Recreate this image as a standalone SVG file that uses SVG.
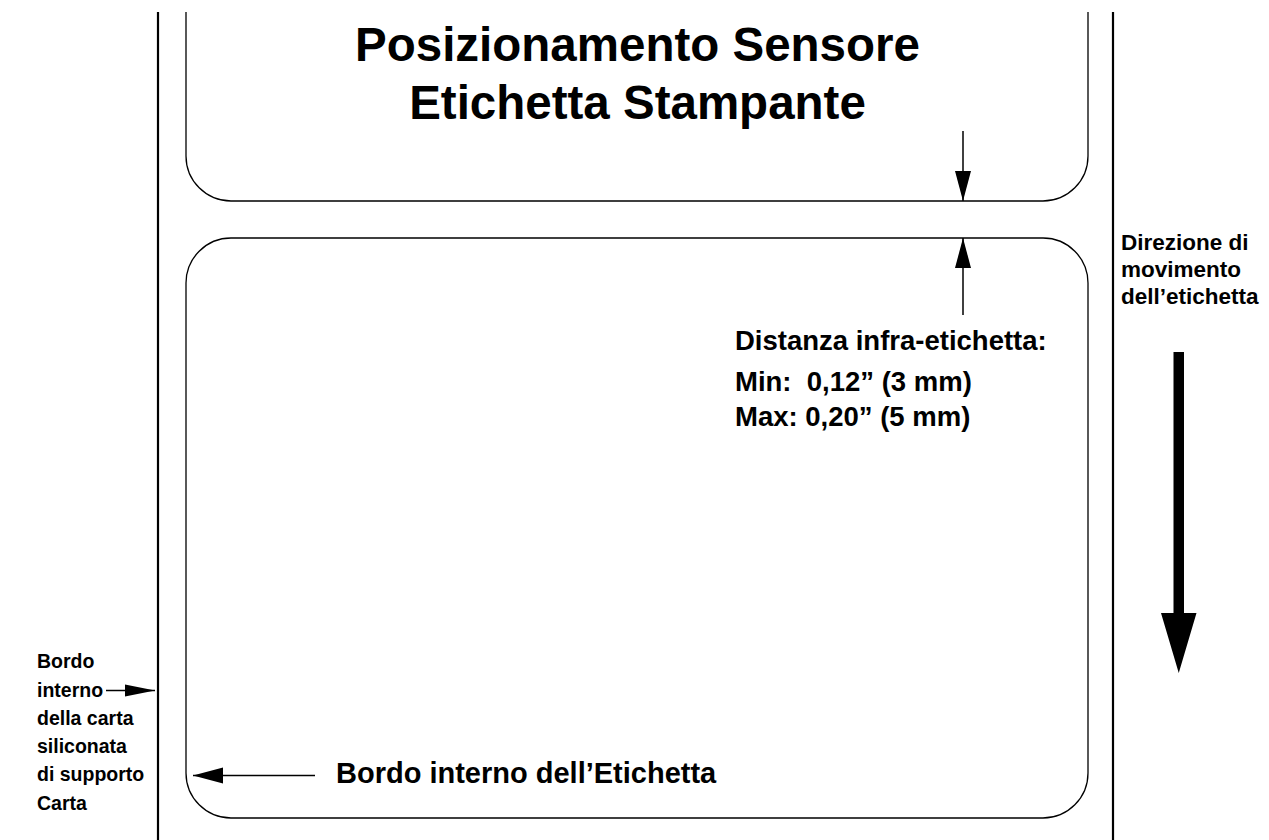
<svg xmlns="http://www.w3.org/2000/svg" width="1269" height="840" viewBox="0 0 1269 840">
<style>
.edge{fill:none;stroke:#000;stroke-width:2.2}
.lbl{fill:none;stroke:#000;stroke-width:1.3}
.ln{fill:none;stroke:#000;stroke-width:1.5}
.t{font-family:"Liberation Sans",Arial,sans-serif;font-weight:bold;fill:#000}
.title{font-size:47.5px;text-anchor:middle}
.m{font-size:27.5px}
.b{font-size:29px}
.r{font-size:22.5px}
.s{font-size:19.5px}
</style>
<defs>
<marker id="ah" markerUnits="userSpaceOnUse" markerWidth="30" markerHeight="20" viewBox="0 0 30 20" refX="30" refY="10" orient="auto">
<path d="M0,2 L30,10 L0,18 Z" fill="#000"/>
</marker>
<marker id="ahs" markerUnits="userSpaceOnUse" markerWidth="30" markerHeight="20" viewBox="0 0 30 20" refX="30" refY="10" orient="auto">
<path d="M0,4 L30,10 L0,16 Z" fill="#000"/>
</marker>
</defs>
<rect width="1269" height="840" fill="#fff"/>
<g id="backing-left"><line class="edge" x1="158" y1="12" x2="158" y2="840"/></g>
<g id="backing-right"><line class="edge" x1="1113" y1="12" x2="1113" y2="840"/></g>
<g id="label-top">
<path class="lbl" d="M186,12 V156 A45,45 0 0 0 231,201 H1043 A45,45 0 0 0 1088,156 V12"/>
<text class="t title" x="637.5" y="61">Posizionamento Sensore</text>
<text class="t title" x="637.5" y="119">Etichetta Stampante</text>
</g>
<g id="label-bottom">
<rect class="lbl" x="186" y="238" width="902" height="580" rx="45" ry="45"/>
</g>
<g id="gap-text">
<text class="t m" x="735" y="350">Distanza infra-etichetta:</text>
<text class="t m" x="735" y="391" xml:space="preserve">Min:  0,12” (3 mm)</text>
<text class="t m" x="735" y="426">Max: 0,20” (5 mm)</text>
</g>
<g id="direction-text">
<text class="t r" x="1121" y="250">Direzione di</text>
<text class="t r" x="1121" y="277">movimento</text>
<text class="t r" x="1121" y="304">dell’etichetta</text>
</g>
<g id="backing-text">
<text class="t s" x="37" y="668">Bordo</text>
<text class="t s" x="37" y="697">interno</text>
<text class="t s" x="37" y="725">della carta</text>
<text class="t s" x="37" y="753">siliconata</text>
<text class="t s" x="37" y="781">di supporto</text>
<text class="t s" x="37" y="810">Carta</text>
</g>
<g id="label-edge-text">
<text class="t b" x="336" y="783">Bordo interno dell’Etichetta</text>
</g>
<g id="connectors">
<line class="ln" x1="106" y1="690.5" x2="155" y2="690.5" marker-end="url(#ahs)"/>
<line class="ln" x1="963" y1="131" x2="963" y2="201" marker-end="url(#ah)"/>
<line class="ln" x1="963" y1="315" x2="963" y2="238" marker-end="url(#ah)"/>
<line class="ln" x1="315" y1="775.5" x2="193" y2="775.5" marker-end="url(#ah)"/>
<path d="M1173.5,352 H1184 V613 H1196.5 L1178.75,673 L1161,613 H1173.5 Z" fill="#000"/>
</g>
</svg>
